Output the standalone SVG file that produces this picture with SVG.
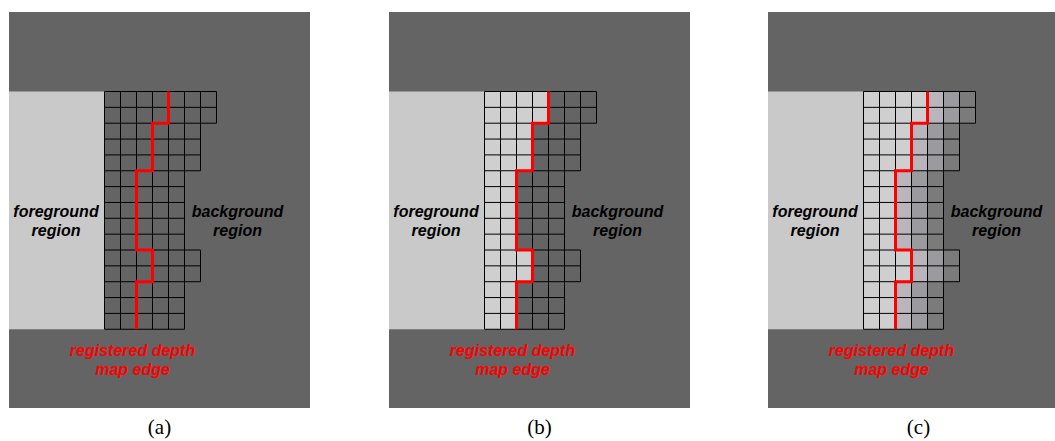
<svg xmlns="http://www.w3.org/2000/svg" xmlns:xlink="http://www.w3.org/1999/xlink" width="1055" height="441" viewBox="0 0 1055 441">
  <style>
    .bg { fill: #646464; }
    .fg { fill: #c9c9c9; }
    .grid { fill: none; stroke: #000; stroke-width: 1; }
    .edge { fill: none; stroke: #ff0000; stroke-width: 3; }
    .lbl { font-family: "Liberation Sans", Arial, sans-serif; font-size: 16px; font-weight: bold; font-style: italic; fill: #000; text-anchor: middle; }
    .red { fill: #ff0000; }
    .cap { font-family: "Liberation Serif", "Times New Roman", serif; font-size: 21px; fill: #000; text-anchor: middle; }
  </style>
  <defs>
    <!-- staircase region: from the grid's left side up to the depth edge -->
    <polygon id="stair" points="104.5,91.5 168.5,91.5 168.5,123.2 152.5,123.2 152.5,170.75 136.5,170.75 136.5,250 152.5,250 152.5,281.7 136.5,281.7 136.5,329.25 104.5,329.25"/>
    <!-- pixel grid lines -->
    <path id="gridlines" class="grid" d="M104.5 91.5H216.5 M104.5 107.35H216.5 M104.5 123.2H216.5 M104.5 139.05H200.5 M104.5 154.9H200.5 M104.5 170.75H200.5 M104.5 186.6H184.5 M104.5 202.45H184.5 M104.5 218.3H184.5 M104.5 234.15H184.5 M104.5 250H200.5 M104.5 265.85H200.5 M104.5 281.7H200.5 M104.5 297.55H184.5 M104.5 313.4H184.5 M104.5 329.25H184.5 M104.5 91.5V329.25 M120.5 91.5V329.25 M136.5 91.5V329.25 M152.5 91.5V329.25 M168.5 91.5V329.25 M184.5 91.5V329.25 M200.5 91.5V170.75 M200.5 250V281.7 M216.5 91.5V123.2"/>
    <!-- registered depth map edge -->
    <path id="edgeline" class="edge" d="M168.5 91.5V123.2H152.5V170.75H136.5V250H152.5V281.7H136.5V329.25"/>
    <!-- shared panel labels -->
    <g id="labels">
      <text class="lbl" x="56" y="217">foreground</text>
      <text class="lbl" x="56" y="236">region</text>
      <text class="lbl" x="237.5" y="217">background</text>
      <text class="lbl" x="237.5" y="236">region</text>
      <text class="lbl red" x="132.5" y="356">registered depth</text>
      <text class="lbl red" x="132.5" y="374.5">map edge</text>
    </g>
  </defs>

  <!-- panel (a): unfiltered grid -->
  <g id="panel-a">
    <rect class="bg" x="9" y="12" width="301" height="396"/>
    <rect class="fg" x="9" y="91.5" width="95.5" height="237.75"/>
    <use xlink:href="#gridlines"/>
    <use xlink:href="#edgeline"/>
    <use xlink:href="#labels"/>
    <text class="cap" x="159.5" y="434">(a)</text>
  </g>

  <!-- panel (b): foreground pixels filled up to the edge -->
  <g id="panel-b" transform="translate(380,0)">
    <rect class="bg" x="9" y="12" width="301" height="396"/>
    <rect class="fg" x="9" y="91.5" width="95.5" height="237.75"/>
    <use xlink:href="#stair" fill="#cfcfcf"/>
    <use xlink:href="#gridlines"/>
    <use xlink:href="#edgeline"/>
    <use xlink:href="#labels"/>
    <text class="cap" x="159.5" y="434">(b)</text>
  </g>

  <!-- panel (c): graded fill across the edge -->
  <g id="panel-c" transform="translate(759,0)">
    <rect class="bg" x="9" y="12" width="301" height="396"/>
    <rect class="fg" x="9" y="91.5" width="95.5" height="237.75"/>
    <use xlink:href="#stair" fill="#7b7b7b" transform="translate(48,0)"/>
    <use xlink:href="#stair" fill="#9b9b9d" transform="translate(32,0)"/>
    <use xlink:href="#stair" fill="#bab5bc" transform="translate(16,0)"/>
    <use xlink:href="#stair" fill="#cfcfcf"/>
    <use xlink:href="#gridlines"/>
    <use xlink:href="#edgeline"/>
    <use xlink:href="#labels"/>
    <text class="cap" x="159.5" y="434">(c)</text>
  </g>
</svg>
